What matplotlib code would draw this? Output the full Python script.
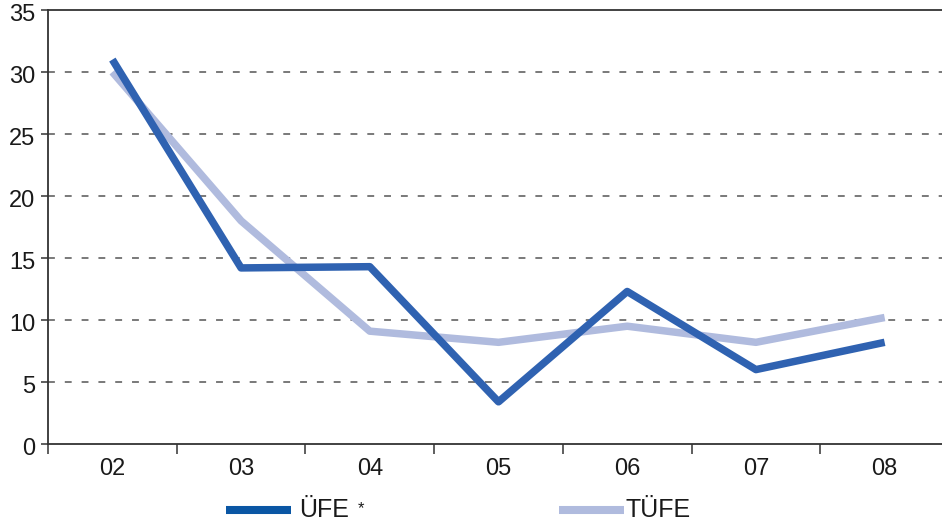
import matplotlib.pyplot as plt
import matplotlib.transforms as mtransforms
from matplotlib.lines import Line2D

plt.rcParams['font.family'] = ['Liberation Sans', 'DejaVu Sans']

years = ["02", "03", "04", "05", "06", "07", "08"]
ufe = [31.0, 14.2, 14.3, 3.4, 12.3, 6.0, 8.2]
tufe = [30.0, 18.0, 9.1, 8.2, 9.5, 8.2, 10.2]

ufe_color = "#2f62b1"
ufe_legend_color = "#0a56a4"
tufe_color = "#b0bbde"
axis_color = "#333333"
text_color = "#1a1a1a"

W, H = 942, 523
fig = plt.figure(figsize=(W / 100, H / 100), dpi=100)
# right edge runs slightly past the figure, as in the original
ax = fig.add_axes([48 / W, 1 - 444 / H, 901 / W, 434 / H])

x = range(len(years))
ax.plot(x, tufe, color=tufe_color, lw=5.4, solid_capstyle="butt", zorder=3)
ax.plot(x, ufe, color=ufe_color, lw=5.4, solid_capstyle="butt", zorder=4)

ax.set_xlim(-0.5, 6.5)
ax.set_ylim(0, 35)
ax.set_yticks(range(0, 36, 5))
ax.set_xticks([i + 0.5 for i in range(-1, 6)], minor=False)
ax.set_xticklabels([])
ax.set_xticks(list(x), minor=True)
ax.set_xticklabels(years, minor=True)

for yv in range(5, 35, 5):
    ax.axhline(yv, color="#555555", lw=1.1, ls=(0, (4.5, 6.5)), zorder=1)

for side in ("left", "bottom", "top"):
    ax.spines[side].set_color(axis_color)
    ax.spines[side].set_linewidth(1.3)
ax.spines["right"].set_visible(False)

ax.tick_params(axis="y", which="major", direction="out", length=5, width=1.1,
               colors=axis_color, labelsize=17, pad=4, labelcolor=text_color)
ax.tick_params(axis="x", which="major", direction="out", length=7, width=1.1,
               colors=axis_color)
ax.tick_params(axis="x", which="minor", length=0, labelsize=17, pad=10,
               labelcolor=text_color)

# y labels sit a little below their ticks in the original
shift = mtransforms.ScaledTranslation(0, -2.5 / 100, fig.dpi_scale_trans)
for lbl in ax.get_yticklabels():
    lbl.set_transform(lbl.get_transform() + shift)

# legend drawn by hand: the two entries have different gaps in the original
def legend_entry(x0, x1, text_x, color, label):
    fig.add_artist(Line2D([x0 / W, x1 / W], [1 - 510 / H, 1 - 510 / H],
                          transform=fig.transFigure, color=color, lw=5.8,
                          solid_capstyle="butt"))
    fig.text(text_x / W, 1 - 517 / H, label, fontsize=18, color=text_color,
             ha="left", va="baseline")

legend_entry(226, 291, 299, ufe_legend_color, "ÜFE")
fig.text(358 / W, 1 - 513 / H, "*", fontsize=12, color=text_color,
         ha="left", va="baseline")
legend_entry(559, 624, 626, tufe_color, "TÜFE")

fig.savefig("out.png", dpi=100)
